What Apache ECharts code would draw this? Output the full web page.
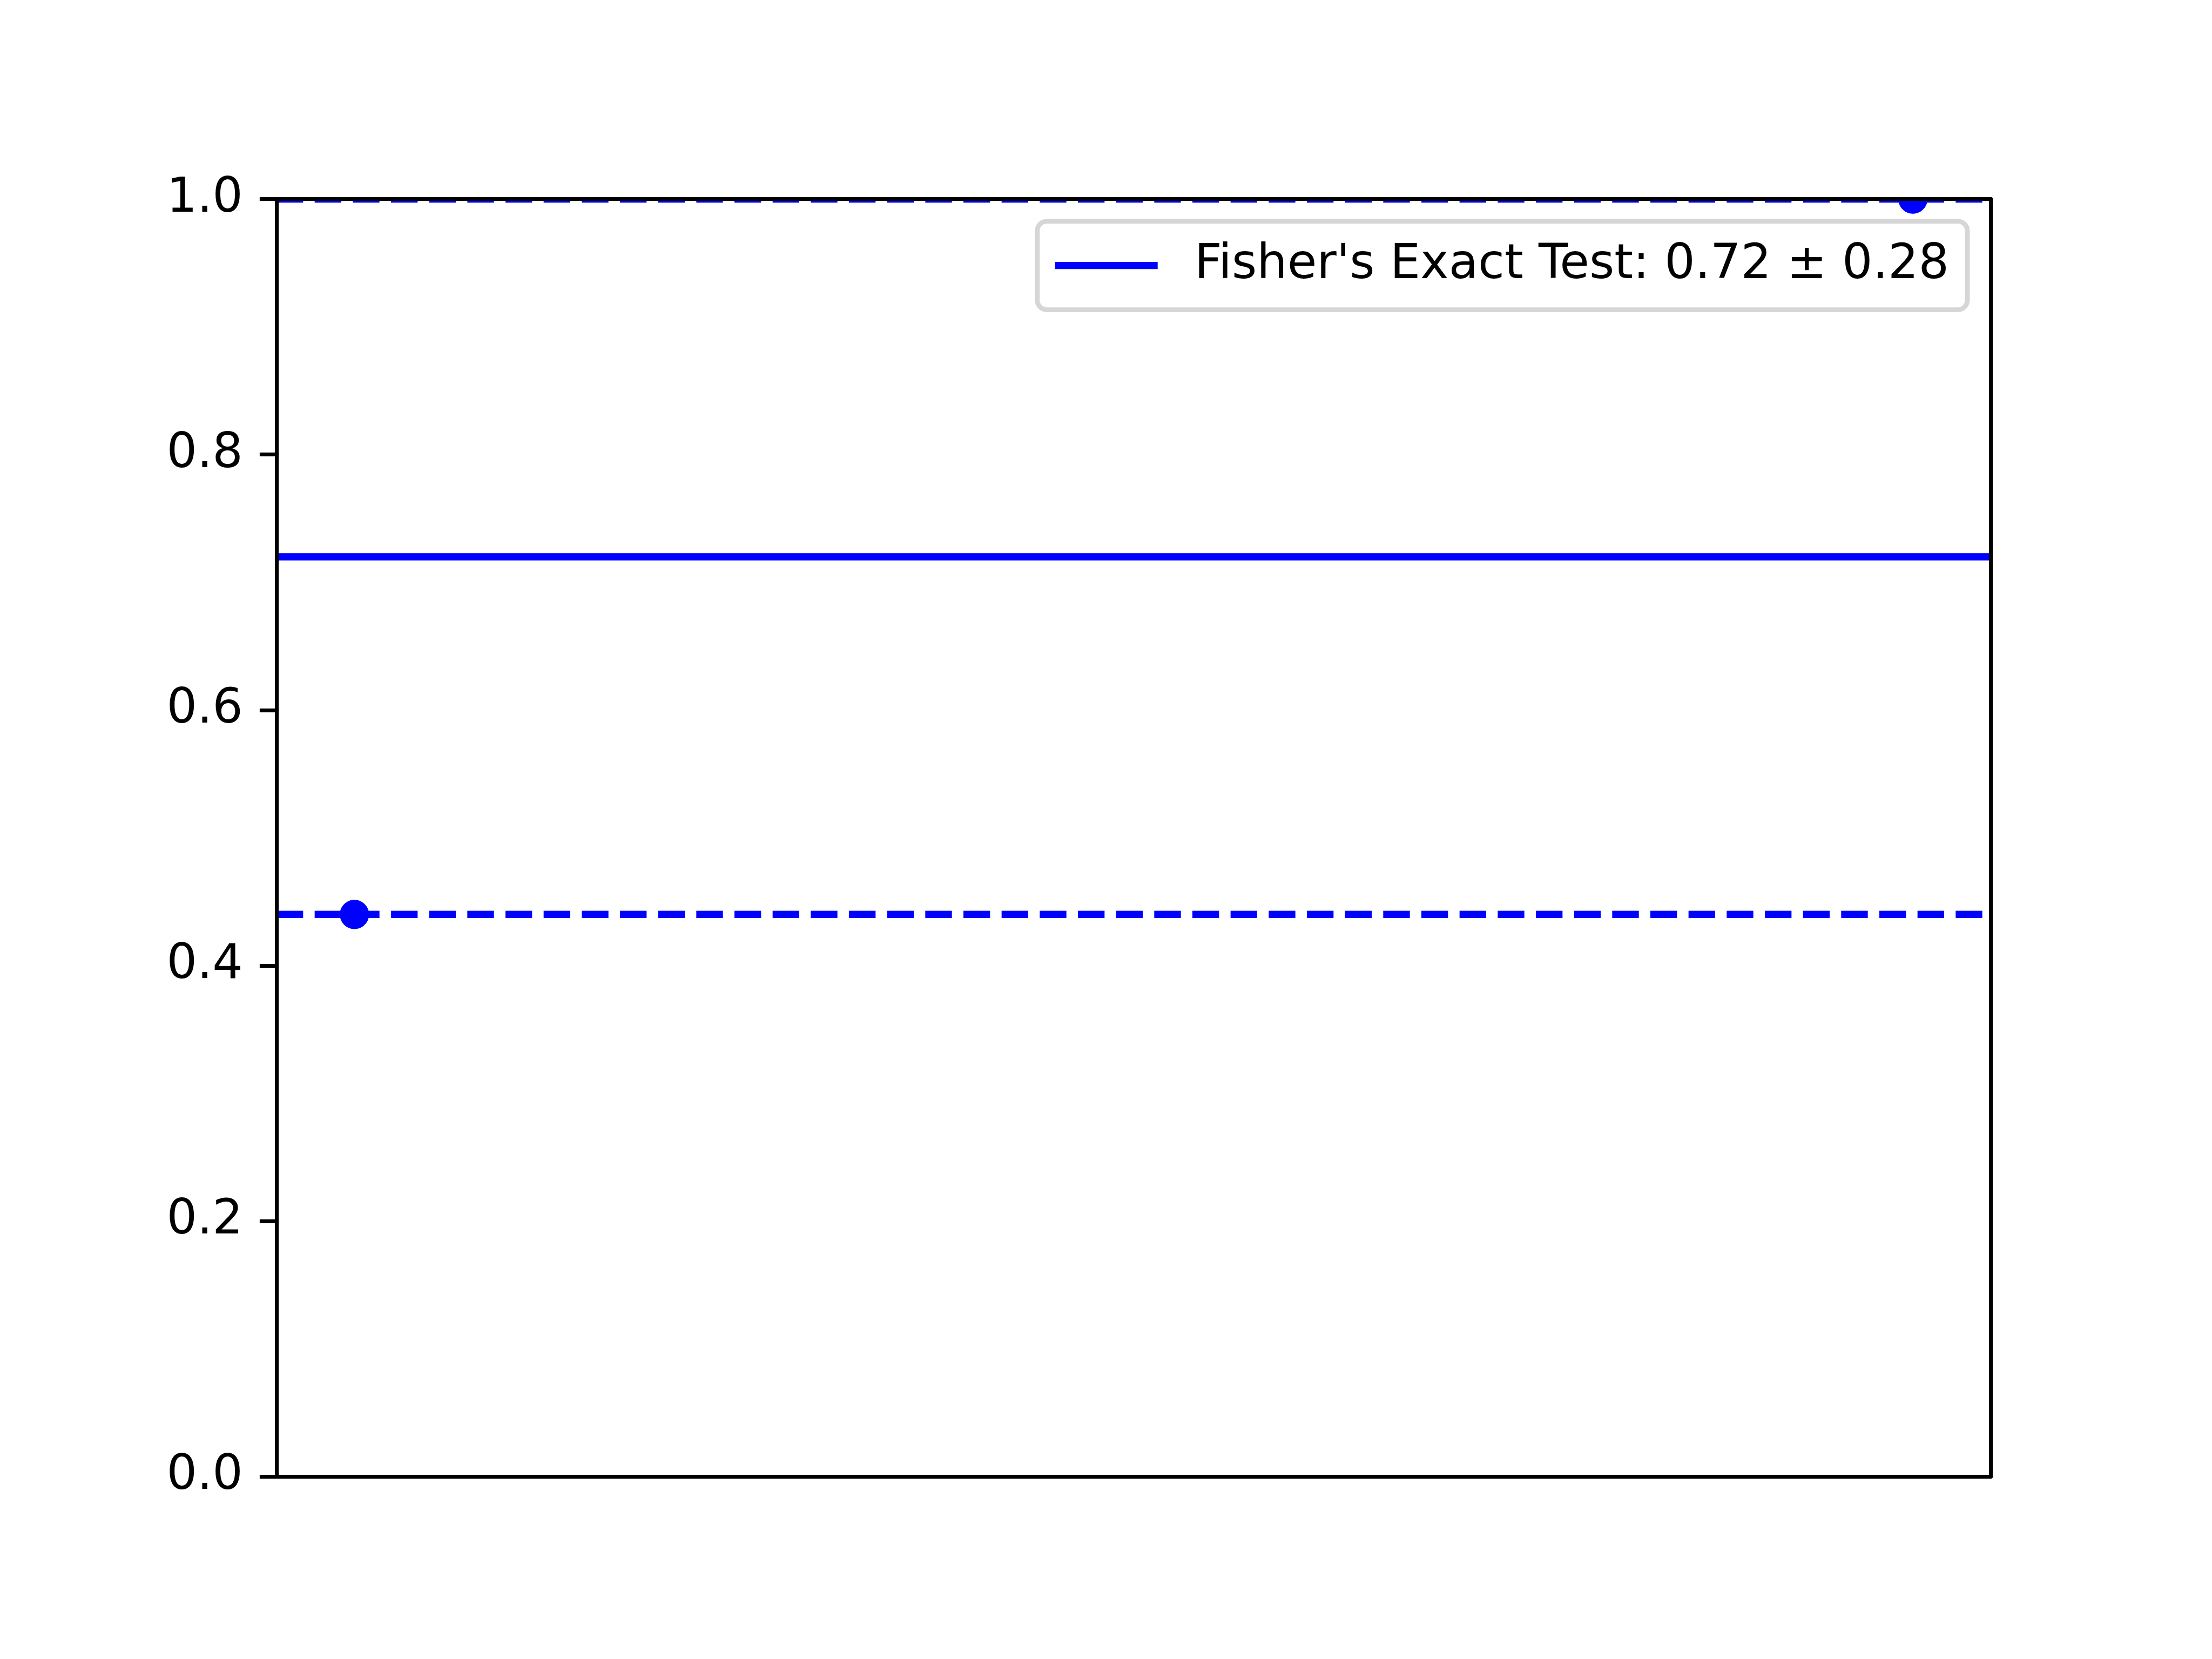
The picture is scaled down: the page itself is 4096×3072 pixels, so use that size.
<!DOCTYPE html>
<html>
<head>
<meta charset="utf-8">
<script src="https://cdn.jsdelivr.net/npm/echarts@6/dist/echarts.min.js"></script>
<style>
html,body{margin:0;padding:0;background:#fff;}
#chart{width:4096px;height:3072px;}
</style>
</head>
<body>
<div id="chart"></div>
<script>
// ---- data ----
const legendLabel = "Fisher's Exact Test: 0.72 ± 0.28";
const fisherEstimate = [0.72];
const ciBounds = [0.44, 1.0];
const pointX = [0, 1];
const pointY = [0.44, 1.0];
const xRange = [-0.05, 1.05];
const yRange = [0, 1.0];
const yTickStep = 0.2;

// ---- styling (scaled 0.8 from 5120x3840 @ 800dpi) ----
const S = 0.8 * 800 / 72; // px per pt
const BLUE = '#0000ff';
const FONT = 'DejaVu Sans';
const fontSize = 10 * S;
const lw = 1.5 * S;
const spineW = 0.8 * S;
const tickLen = 3.5 * S;
const markerR = 3 * S;

const chart = echarts.init(document.getElementById('chart'), null, {renderer: 'canvas'});

function hline(dashed) {
  return function (params, api) {
    const p1 = api.coord([api.value(0), api.value(1)]);
    const p2 = api.coord([api.value(2), api.value(1)]);
    const style = {stroke: BLUE, lineWidth: lw, fill: null};
    if (dashed) style.lineDash = [3.7 * lw, 1.6 * lw];
    return {type: 'line', shape: {x1: p1[0], y1: p1[1], x2: p2[0], y2: p2[1]}, style: style};
  };
}

const option = {
  backgroundColor: '#ffffff',
  animation: false,
  grid: {left: 512, right: 4096 - 3686.4, top: 368.64, bottom: 3072 - 2734.08, containLabel: false},
  xAxis: [
    {type: 'value', min: xRange[0], max: xRange[1], position: 'bottom', z: 10,
     axisLine: {show: true, onZero: false, lineStyle: {color: '#000', width: spineW}},
     axisTick: {show: false}, axisLabel: {show: false}, splitLine: {show: false}},
    {type: 'value', min: xRange[0], max: xRange[1], position: 'top', z: 10,
     axisLine: {show: true, onZero: false, lineStyle: {color: '#000', width: spineW}},
     axisTick: {show: false}, axisLabel: {show: false}, splitLine: {show: false}}
  ],
  yAxis: [
    {type: 'value', min: yRange[0], max: yRange[1], interval: yTickStep, position: 'left', z: 10,
     axisLine: {show: true, onZero: false, lineStyle: {color: '#000', width: spineW}},
     axisTick: {show: true, inside: false, length: tickLen, lineStyle: {color: '#000', width: spineW}},
     axisLabel: {show: true, margin: tickLen + 3.5 * S, color: '#000', fontFamily: FONT, fontSize: fontSize,
                 formatter: v => v.toFixed(1)},
     splitLine: {show: false}},
    {type: 'value', min: yRange[0], max: yRange[1], position: 'right', z: 10,
     axisLine: {show: true, onZero: false, lineStyle: {color: '#000', width: spineW}},
     axisTick: {show: false}, axisLabel: {show: false}, splitLine: {show: false}}
  ],
  legend: {
    show: true,
    right: 4096 - 3643,
    top: 409.6,
    orient: 'horizontal',
    padding: [30, 34, 30, 33],
    backgroundColor: '#ffffff',
    borderColor: '#d6d6d6',
    borderWidth: 8.9,
    borderRadius: 18,
    itemWidth: 190,
    itemHeight: lw,
    itemGap: 0,
    icon: 'rect',
    data: [{name: legendLabel, icon: 'rect', itemStyle: {color: BLUE}}],
    textStyle: {color: '#000', fontFamily: FONT, fontSize: fontSize, lineHeight: 104, padding: [0, 0, 0, 63]}
  },
  series: [
    {
      name: legendLabel,
      type: 'custom',
      xAxisIndex: 0, yAxisIndex: 0,
      clip: true,
      itemStyle: {color: BLUE},
      encode: {x: [0, 2], y: 1},
      data: fisherEstimate.map(v => [xRange[0], v, xRange[1]]),
      renderItem: hline(false),
      z: 2
    },
    {
      name: 'ci',
      type: 'custom',
      xAxisIndex: 0, yAxisIndex: 0,
      clip: true,
      itemStyle: {color: BLUE},
      encode: {x: [0, 2], y: 1},
      data: ciBounds.map(v => [xRange[0], v, xRange[1]]),
      renderItem: hline(true),
      z: 2
    },
    {
      name: 'bounds',
      type: 'custom',
      xAxisIndex: 0, yAxisIndex: 0,
      clip: true,
      itemStyle: {color: BLUE},
      encode: {x: 0, y: 1},
      data: pointX.map((x, i) => [x, pointY[i]]),
      renderItem: function (params, api) {
        const p = api.coord([api.value(0), api.value(1)]);
        return {type: 'circle', shape: {cx: p[0], cy: p[1], r: markerR}, style: {fill: BLUE, stroke: BLUE, lineWidth: 1}};
      },
      z: 3
    }
  ]
};
chart.setOption(option);
</script>
</body>
</html>
